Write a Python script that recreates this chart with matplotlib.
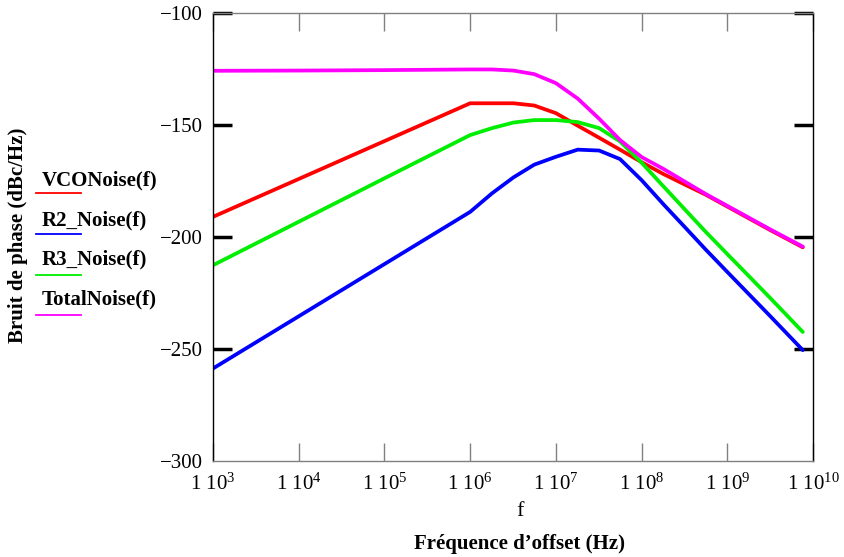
import matplotlib
matplotlib.use("Agg")
import matplotlib.pyplot as plt
from matplotlib.lines import Line2D

plt.rcParams['font.family'] = ['Liberation Serif', 'DejaVu Serif']
plt.rcParams['mathtext.fontset'] = 'custom'
plt.rcParams['mathtext.rm'] = 'Liberation Serif'
plt.rcParams['mathtext.it'] = 'Liberation Serif'
plt.rcParams['mathtext.bf'] = 'Liberation Serif:bold'

# frequency offsets (Hz) and noise values (dBc/Hz)
freq = [1e3, 1e4, 1e5, 1e6, 1.8e6, 3.2e6, 5.6e6, 1e7, 1.8e7, 3.2e7, 5.6e7,
        1e8, 1.8e8, 3.2e8, 5.6e8, 1e9, 3.2e9, 7.6e9]
vco_noise = [-191.0, -174.1, -157.2, -140.3, -140.3, -140.3, -141.3, -144.7, -150.3,
             -155.7, -161.0, -166.6, -171.9, -176.6, -181.1, -186.4, -197.0, -204.6]
r2_noise = [-258.7, -235.4, -212.1, -188.8, -180.5, -173.4, -167.7, -164.2, -161.0,
            -161.4, -165.2, -174.6, -185.4, -195.6, -205.6, -215.6, -235.5, -250.5]
r3_noise = [-212.6, -193.2, -173.8, -154.5, -151.4, -148.9, -147.8, -147.8, -148.7,
            -151.4, -157.3, -166.8, -177.4, -187.7, -197.7, -207.6, -227.4, -242.4]
total_noise = [-125.8, -125.7, -125.5, -125.2, -125.2, -125.7, -127.3, -131.3, -138.2,
               -147.2, -156.7, -164.3, -169.6, -175.3, -180.8, -186.1, -196.7, -204.3]

x_ticks = [1e3, 1e4, 1e5, 1e6, 1e7, 1e8, 1e9, 1e10]
x_labels = ['1 10$^{%d}$' % e for e in range(3, 11)]
y_ticks = [-300, -250, -200, -150, -100]
y_labels = ['\u2212300', '\u2212250', '\u2212200', '\u2212150', '\u2212100']

series = [('VCONoise(f)', vco_noise, '#ff0000'),
          ('R2_Noise(f)', r2_noise, '#0000ff'),
          ('R3_Noise(f)', r3_noise, '#00ee00'),
          ('TotalNoise(f)', total_noise, '#ff00ff')]

fig = plt.figure(figsize=(8.45, 5.57), dpi=100)
ax = fig.add_axes([213 / 845, 1 - 461 / 557, 600 / 845, 448 / 557])

for name, vals, col in series:
    ax.plot(freq, vals, color=col, linewidth=2.7, solid_capstyle='round',
            solid_joinstyle='round')

ax.set_xscale('log')
ax.set_xlim(1e3, 1e10)
ax.set_ylim(-300, -100)
ax.minorticks_off()

ax.set_xticks(x_ticks)
ax.set_xticklabels(x_labels, fontsize=15)
ax.set_yticks(y_ticks)
ax.set_yticklabels(y_labels, fontsize=15)

ax.tick_params(axis='x', direction='in', length=13, width=1, color='#808080',
               top=True, bottom=True, pad=9)
ax.tick_params(axis='y', direction='in', length=14, width=2.5, color='black',
               left=True, right=True, pad=7)
ax.yaxis.get_major_ticks()[0].tick1line.set_visible(False)
ax.yaxis.get_major_ticks()[0].tick2line.set_visible(False)

ax.spines['top'].set_color('#808080')
ax.spines['bottom'].set_color('#808080')
ax.spines['left'].set_color('black')
ax.spines['right'].set_color('black')
for s in ax.spines.values():
    s.set_linewidth(1.0)

fig.text(520 / 845, 1 - 512 / 557, 'f', fontsize=16, ha='center', va='center')
fig.text(520 / 845, 1 - 544 / 557, 'Fr\u00e9quence d\u2019offset (Hz)', fontsize=15,
         fontweight='bold', ha='center', va='center')
fig.text(18 / 845, 1 - 235 / 557, 'Bruit de phase (dBc/Hz)', fontsize=15,
         fontweight='bold', ha='center', va='center', rotation=90)

# legend, Mathcad style: name with a short line under it
text_y = [185, 225, 264, 304]
line_y = [193, 234, 275, 315]
for (name, vals, col), ty, ly in zip(series, text_y, line_y):
    fig.text(42 / 845, 1 - ty / 557, name, fontsize=15, fontweight='bold',
             ha='left', va='baseline')
    fig.add_artist(Line2D([36 / 845, 81 / 845], [1 - ly / 557, 1 - ly / 557],
                          color=col, linewidth=1.3))

fig.savefig('out.png', dpi=100)
